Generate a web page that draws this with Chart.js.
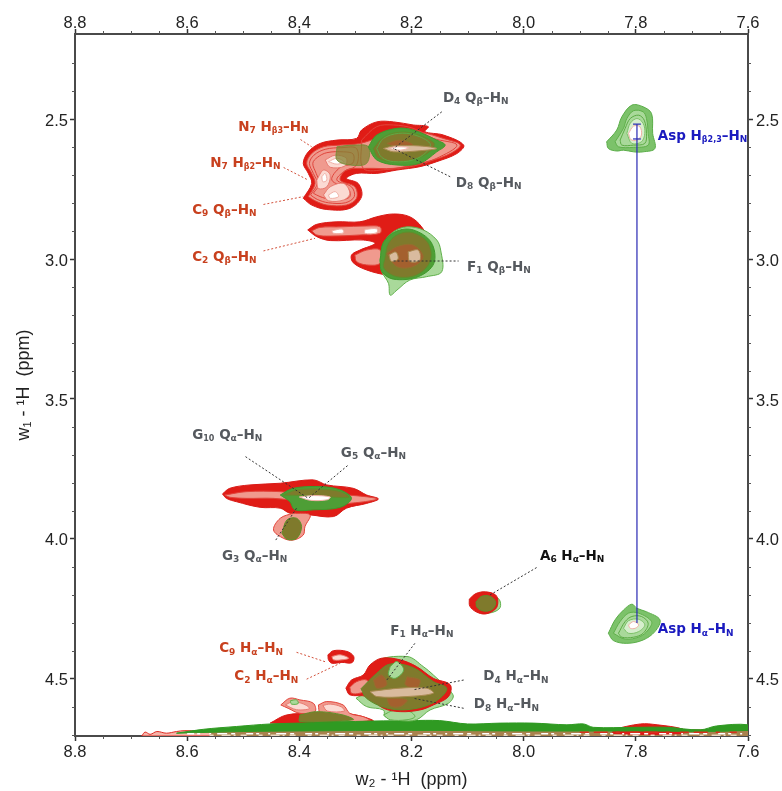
<!DOCTYPE html>
<html>
<head>
<meta charset="utf-8">
<title>NOESY spectrum</title>
<script src="https://cdn.jsdelivr.net/npm/chart.js@4"></script>
<style>
  body { margin: 0; background: #fff; }
  canvas { display: block; }
</style>
</head>
<body>
<canvas id="chart" width="782" height="791"></canvas>
<script>
// axis values (ppm)
const xRange = [7.6, 8.8];
const yRange = [2.196, 4.704];
const xMajorTicks = [8.8, 8.6, 8.4, 8.2, 8.0, 7.8, 7.6];
const yMajorTicks = [2.5, 3.0, 3.5, 4.0, 4.5];
const xMinorTicks = [8.75, 8.7, 8.65, 8.55, 8.5, 8.45, 8.35, 8.3, 8.25, 8.15, 8.1, 8.05, 7.95, 7.9, 7.85, 7.75, 7.7, 7.65];
const yMinorTicks = [2.3, 2.4, 2.6, 2.7, 2.8, 2.9, 3.1, 3.2, 3.3, 3.4, 3.6, 3.7, 3.8, 3.9, 4.1, 4.2, 4.3, 4.4, 4.6, 4.7];

// contours, [w2, w1] in ppm
const bandRedOuter = [[8.393,2.783],[8.378,2.730],[8.384,2.694],[8.393,2.658],[8.384,2.617],[8.363,2.587],[8.333,2.575],[8.298,2.569],[8.289,2.539],[8.262,2.510],[8.232,2.510],[8.197,2.521],[8.170,2.527],[8.176,2.545],[8.143,2.557],[8.107,2.593],[8.119,2.623],[8.155,2.652],[8.185,2.670],[8.226,2.682],[8.262,2.694],[8.298,2.694],[8.316,2.712],[8.295,2.730],[8.289,2.777],[8.310,2.819],[8.351,2.823],[8.378,2.807]];
const bandRedMid = [[8.384,2.777],[8.372,2.730],[8.378,2.694],[8.387,2.658],[8.378,2.623],[8.357,2.599],[8.327,2.593],[8.292,2.587],[8.256,2.563],[8.220,2.533],[8.185,2.545],[8.143,2.569],[8.113,2.593],[8.137,2.629],[8.185,2.658],[8.232,2.676],[8.280,2.676],[8.316,2.682],[8.327,2.718],[8.301,2.742],[8.298,2.783],[8.316,2.807],[8.351,2.807],[8.372,2.792]];
const bandRedRingA = [[8.380,2.771],[8.368,2.730],[8.375,2.694],[8.382,2.658],[8.374,2.629],[8.354,2.608],[8.324,2.602],[8.298,2.605],[8.298,2.664],[8.321,2.688],[8.333,2.718],[8.307,2.742],[8.302,2.777],[8.318,2.799],[8.348,2.799],[8.368,2.787]];
const bandRedRingB = [[8.375,2.765],[8.364,2.730],[8.370,2.694],[8.376,2.658],[8.368,2.637],[8.351,2.620],[8.321,2.617],[8.304,2.625],[8.305,2.658],[8.327,2.672],[8.342,2.718],[8.312,2.751],[8.310,2.777],[8.321,2.787],[8.345,2.787],[8.363,2.777]];
const bandRedRingC = [[8.289,2.575],[8.262,2.527],[8.232,2.521],[8.197,2.533],[8.161,2.569],[8.119,2.593],[8.155,2.640],[8.197,2.668],[8.244,2.680],[8.286,2.676]];
const lobeRingA = [[8.354,2.646],[8.336,2.629],[8.316,2.640],[8.319,2.668],[8.345,2.672]];
const lobeRingB = [[8.369,2.718],[8.357,2.682],[8.345,2.700],[8.351,2.742],[8.366,2.748]];
const lobeRingC = [[8.357,2.771],[8.345,2.742],[8.321,2.730],[8.310,2.765],[8.321,2.789],[8.348,2.792]];
const lobeSpotA = [[8.348,2.652],[8.333,2.640],[8.321,2.652],[8.333,2.661]];
const lobeSpotB = [[8.348,2.771],[8.336,2.759],[8.330,2.777],[8.345,2.783]];
const lobeSpotC = [[8.360,2.706],[8.354,2.694],[8.351,2.718],[8.358,2.724]];
const bandGreenFaint = [[8.333,2.599],[8.304,2.593],[8.277,2.599],[8.280,2.658],[8.310,2.664],[8.333,2.646]];
const bandGreen = [[8.277,2.599],[8.262,2.557],[8.226,2.533],[8.197,2.539],[8.155,2.575],[8.140,2.593],[8.155,2.617],[8.185,2.658],[8.226,2.664],[8.262,2.646]];
const bandCore = [[8.268,2.605],[8.252,2.568],[8.226,2.548],[8.195,2.552],[8.160,2.585],[8.165,2.612],[8.196,2.645],[8.235,2.652],[8.260,2.638]];
const bandContour = [[8.262,2.605],[8.250,2.569],[8.223,2.551],[8.194,2.557],[8.167,2.587],[8.173,2.617],[8.197,2.646],[8.232,2.652],[8.253,2.637]];
const bandBlotch = [[8.244,2.587],[8.220,2.575],[8.197,2.593],[8.220,2.605]];
const bandSpot = [[8.250,2.605],[8.232,2.596],[8.185,2.596],[8.155,2.605],[8.185,2.613],[8.232,2.617]];
const bandHot = [[8.240,2.605],[8.228,2.599],[8.205,2.602],[8.220,2.611]];

const c2RedOuter = [[8.385,2.896],[8.369,2.876],[8.333,2.867],[8.292,2.867],[8.262,2.849],[8.232,2.839],[8.203,2.849],[8.182,2.885],[8.167,2.944],[8.167,3.015],[8.197,3.063],[8.244,3.057],[8.280,3.039],[8.304,3.013],[8.307,2.986],[8.292,2.968],[8.265,2.944],[8.286,2.932],[8.345,2.934],[8.369,2.920]];
const c2RedStrip = [[8.378,2.899],[8.363,2.887],[8.327,2.885],[8.280,2.882],[8.256,2.885],[8.256,2.908],[8.292,2.914],[8.345,2.918],[8.369,2.914]];
const c2SpotA = [[8.342,2.899],[8.324,2.893],[8.321,2.906],[8.339,2.908]];
const c2SpotB = [[8.283,2.894],[8.262,2.892],[8.262,2.906],[8.283,2.908]];
const f1RedLight = [[8.301,2.986],[8.280,2.968],[8.256,2.968],[8.256,3.015],[8.280,3.021],[8.298,3.009]];
const f1GreenOuter = [[8.256,3.004],[8.250,2.944],[8.232,2.902],[8.208,2.885],[8.179,2.896],[8.155,2.932],[8.148,2.968],[8.146,3.045],[8.173,3.063],[8.203,3.075],[8.226,3.111],[8.238,3.129],[8.241,3.087],[8.253,3.045]];
const f1GreenRim = [[8.256,3.004],[8.250,2.940],[8.226,2.900],[8.197,2.896],[8.165,2.940],[8.160,3.015],[8.188,3.063],[8.232,3.072],[8.253,3.045]];
const f1Olive = [[8.247,2.992],[8.241,2.944],[8.223,2.911],[8.197,2.906],[8.170,2.944],[8.167,3.009],[8.191,3.057],[8.226,3.063],[8.249,3.033]];
const f1Core = [[8.244,2.980],[8.226,2.956],[8.197,2.950],[8.179,2.992],[8.197,3.027],[8.226,3.027]];
const f1Spot = [[8.206,2.974],[8.188,2.968],[8.185,3.004],[8.203,3.009]];
const f1SpotLeft = [[8.240,2.985],[8.228,2.975],[8.224,3.000],[8.236,3.008]];

const gBandRed = [[8.537,3.839],[8.524,3.819],[8.488,3.807],[8.434,3.801],[8.375,3.789],[8.351,3.807],[8.304,3.819],[8.280,3.843],[8.259,3.857],[8.280,3.873],[8.316,3.890],[8.339,3.920],[8.381,3.914],[8.417,3.908],[8.434,3.890],[8.470,3.887],[8.512,3.867],[8.530,3.855]];
const gBandStrip = [[8.533,3.843],[8.494,3.831],[8.434,3.831],[8.375,3.843],[8.316,3.843],[8.262,3.857],[8.316,3.873],[8.387,3.867],[8.446,3.855],[8.494,3.855],[8.524,3.851]];
const gBandGreen = [[8.434,3.843],[8.411,3.819],[8.363,3.813],[8.327,3.825],[8.307,3.855],[8.327,3.887],[8.375,3.896],[8.408,3.896],[8.417,3.867]];
const gBandOlive = [[8.428,3.843],[8.405,3.825],[8.363,3.822],[8.327,3.831],[8.312,3.851],[8.375,3.846]];
const gBandSpot = [[8.400,3.850],[8.375,3.845],[8.345,3.850],[8.350,3.860],[8.380,3.862]];
const g3Red = [[8.411,3.908],[8.381,3.914],[8.390,3.956],[8.393,3.986],[8.411,4.004],[8.428,3.998],[8.446,3.968],[8.434,3.926]];
const g3Core = [[8.431,3.980],[8.422,3.932],[8.405,3.926],[8.396,3.956],[8.405,3.998],[8.422,4.001]];

const a6Red = [[8.097,4.215],[8.085,4.195],[8.068,4.189],[8.050,4.200],[8.046,4.225],[8.050,4.250],[8.068,4.268],[8.085,4.260],[8.096,4.240]];
const a6Green = [[8.085,4.225],[8.075,4.205],[8.060,4.205],[8.050,4.225],[8.055,4.250],[8.070,4.258],[8.083,4.245]];
const a6Fringe = [[8.060,4.200],[8.044,4.215],[8.042,4.245],[8.055,4.262],[8.070,4.262],[8.060,4.230]];

const c9AlphaRed = [[8.349,4.414],[8.339,4.399],[8.315,4.402],[8.303,4.420],[8.306,4.442],[8.324,4.441],[8.342,4.444],[8.348,4.432]];
const c9AlphaLight = [[8.342,4.420],[8.327,4.414],[8.312,4.426],[8.324,4.432],[8.339,4.432]];

const f1AlphaPale = [[8.299,4.569],[8.286,4.551],[8.268,4.444],[8.208,4.420],[8.179,4.456],[8.161,4.486],[8.126,4.557],[8.134,4.587],[8.167,4.611],[8.191,4.646],[8.220,4.649],[8.247,4.635],[8.250,4.611],[8.280,4.599]];
const f1AlphaRed = [[8.317,4.533],[8.307,4.504],[8.286,4.486],[8.274,4.450],[8.253,4.426],[8.220,4.432],[8.191,4.456],[8.161,4.498],[8.131,4.521],[8.134,4.563],[8.161,4.593],[8.185,4.611],[8.220,4.617],[8.250,4.605],[8.280,4.563],[8.310,4.557]];
const f1AlphaOlive = [[8.290,4.535],[8.262,4.480],[8.238,4.447],[8.197,4.460],[8.161,4.510],[8.137,4.535],[8.161,4.585],[8.208,4.610],[8.248,4.602],[8.280,4.570]];
const f1AlphaLeft = [[8.310,4.530],[8.298,4.510],[8.280,4.504],[8.274,4.533],[8.292,4.551],[8.307,4.551]];
const f1AlphaTop = [[8.238,4.456],[8.226,4.438],[8.214,4.468],[8.229,4.498],[8.241,4.486]];
const f1AlphaStrip = [[8.274,4.545],[8.220,4.533],[8.173,4.533],[8.161,4.551],[8.208,4.563],[8.262,4.563]];
const f1AlphaPatchA = [[8.268,4.504],[8.253,4.486],[8.244,4.521],[8.262,4.533]];
const f1AlphaPatchB = [[8.208,4.492],[8.185,4.504],[8.191,4.533],[8.211,4.521]];
const f1AlphaPatchC = [[8.244,4.569],[8.208,4.575],[8.220,4.599],[8.238,4.596]];
const f1AlphaFoot = [[8.250,4.629],[8.232,4.613],[8.203,4.617],[8.194,4.635],[8.208,4.646],[8.238,4.646]];

const bumpLeft = [[8.433,4.593],[8.417,4.569],[8.399,4.575],[8.375,4.587],[8.372,4.617],[8.399,4.623],[8.420,4.605]];
const bumpLeftInner = [[8.425,4.593],[8.412,4.582],[8.392,4.590],[8.382,4.606],[8.405,4.610]];
const bumpLeftDot = [[8.416,4.578],[8.405,4.575],[8.402,4.588],[8.414,4.590]];
const bumpRight = [[8.366,4.593],[8.351,4.581],[8.322,4.593],[8.310,4.623],[8.286,4.635],[8.274,4.649],[8.339,4.652],[8.363,4.623]];
const bumpRightInner = [[8.358,4.595],[8.345,4.590],[8.325,4.600],[8.320,4.615],[8.350,4.615]];
const moundRed = [[8.452,4.658],[8.423,4.629],[8.375,4.623],[8.339,4.623],[8.298,4.629],[8.268,4.652],[8.339,4.661]];
const moundOlive = [[8.399,4.629],[8.369,4.617],[8.322,4.629],[8.304,4.646],[8.399,4.652]];

const edgeRedLeft = [[8.681,4.704],[8.675,4.690],[8.666,4.698],[8.654,4.688],[8.637,4.694],[8.619,4.688],[8.604,4.685],[8.560,4.690],[8.560,4.704]];
const edgeRedRight = [[7.840,4.680],[7.792,4.661],[7.762,4.664],[7.715,4.680],[7.715,4.695],[7.840,4.695]];
const floorBrown = [[8.640,4.704],[8.619,4.694],[8.500,4.686],[8.300,4.684],[8.000,4.684],[7.800,4.684],[7.600,4.684],[7.600,4.704]];
const floorGreen = [[8.619,4.694],[8.571,4.680],[8.512,4.670],[8.452,4.661],[8.400,4.658],[8.300,4.652],[8.200,4.649],[8.150,4.649],[8.100,4.661],[8.042,4.658],[7.983,4.658],[7.923,4.664],[7.893,4.661],[7.876,4.673],[7.804,4.673],[7.745,4.673],[7.685,4.682],[7.656,4.668],[7.600,4.664],[7.600,4.684],[7.800,4.686],[8.000,4.686],[8.200,4.684],[8.400,4.686],[8.500,4.688]];
const floorSpeckleA = [[8.600,4.696],[7.600,4.696]];
const floorSpeckleB = [[8.560,4.701],[7.600,4.701]];
const floorSpeckleC = [[7.900,4.691],[7.620,4.691]];

const aspBetaOuter = [[7.852,2.581],[7.834,2.539],[7.825,2.492],[7.807,2.450],[7.787,2.456],[7.772,2.480],[7.770,2.551],[7.766,2.605],[7.787,2.617],[7.804,2.617],[7.822,2.611],[7.834,2.614],[7.849,2.605]];
const aspBetaMid = [[7.837,2.581],[7.822,2.533],[7.816,2.498],[7.804,2.470],[7.787,2.474],[7.781,2.498],[7.778,2.551],[7.778,2.593],[7.804,2.601],[7.831,2.599]];
const aspBetaRing = [[7.828,2.575],[7.819,2.533],[7.810,2.498],[7.795,2.486],[7.785,2.504],[7.781,2.551],[7.784,2.587],[7.804,2.593],[7.825,2.593]];
const aspBetaInner = [[7.816,2.551],[7.810,2.515],[7.798,2.498],[7.787,2.515],[7.784,2.551],[7.790,2.581],[7.807,2.587]];
const aspBetaSpot = [[7.813,2.551],[7.804,2.525],[7.793,2.527],[7.790,2.557],[7.798,2.575],[7.809,2.573]];
const aspAlphaOuter = [[7.849,4.337],[7.837,4.289],[7.822,4.254],[7.807,4.233],[7.798,4.248],[7.781,4.260],[7.757,4.289],[7.766,4.331],[7.787,4.361],[7.816,4.373],[7.840,4.363]];
const aspAlphaMid = [[7.840,4.337],[7.828,4.295],[7.813,4.265],[7.795,4.265],[7.772,4.295],[7.778,4.325],[7.793,4.349],[7.819,4.358]];
const aspAlphaRing = [[7.831,4.337],[7.819,4.295],[7.807,4.277],[7.790,4.277],[7.778,4.301],[7.787,4.337],[7.804,4.351],[7.825,4.351]];
const aspAlphaInner = [[7.822,4.319],[7.813,4.292],[7.795,4.287],[7.784,4.307],[7.795,4.331],[7.813,4.337]];
const aspAlphaSpot = [[7.813,4.307],[7.804,4.295],[7.795,4.307],[7.801,4.319],[7.810,4.319]];

// bottom to top, with the colour group of each contour
const contours = [
  [floorBrown, "floorBrown"], [edgeRedLeft, "redLine"], [edgeRedRight, "redEdge"],
  [moundRed, "redEdge"], [bumpLeft, "redMid"], [bumpLeftInner, "redLight"], [bumpLeftDot, "greenPale"], [bumpRight, "redMid"], [bumpRightInner, "redLight"],
  [moundOlive, "olive"], [floorGreen, "floorGreen"],
  [bandRedOuter, "redEdge"], [bandRedMid, "redMid"], [bandRedRingA, "redContour"], [bandRedRingB, "redContour"], [bandRedRingC, "redContour"],
  [lobeRingA, "redLight"], [lobeRingB, "redLight"], [lobeRingC, "redLight"],
  [lobeSpotA, "white"], [lobeSpotB, "white"], [lobeSpotC, "white"],
  [bandGreenFaint, "oliveFaint"], [bandGreen, "greenRim"], [bandCore, "olive"], [bandContour, "greenContour"], [bandBlotch, "brown"], [bandSpot, "tan"], [bandHot, "white"],
  [c2RedOuter, "redEdge"], [c2RedStrip, "redMid"], [c2SpotA, "white"], [c2SpotB, "white"], [f1RedLight, "redMid"],
  [f1GreenOuter, "greenPale"], [f1GreenRim, "greenRim"], [f1Olive, "olive"], [f1Core, "brown"], [f1Spot, "tan"], [f1SpotLeft, "tan"],
  [gBandRed, "redEdge"], [gBandStrip, "redMid"], [gBandGreen, "greenRim"], [gBandOlive, "olive"], [gBandSpot, "white"],
  [g3Red, "redMid"], [g3Core, "olive"],
  [a6Fringe, "greenPale"], [a6Red, "redEdge"], [a6Green, "olive"],
  [c9AlphaRed, "redEdge"], [c9AlphaLight, "redLight"],
  [f1AlphaPale, "greenPale"], [f1AlphaFoot, "greenPale"], [f1AlphaRed, "redEdge"], [f1AlphaLeft, "redMid"], [f1AlphaOlive, "olive"], [f1AlphaTop, "greenPale"],
  [f1AlphaPatchA, "brown"], [f1AlphaPatchB, "brown"], [f1AlphaPatchC, "brown"], [f1AlphaStrip, "tan"],
  [aspBetaOuter, "greenEdge"], [aspBetaMid, "greenPale"], [aspBetaRing, "greenContour"], [aspBetaInner, "greenLight"], [aspBetaSpot, "white"],
  [aspAlphaOuter, "greenEdge"], [aspAlphaMid, "greenPale"], [aspAlphaRing, "greenContour"], [aspAlphaInner, "greenLight"], [aspAlphaSpot, "white"],
];

const contourStyles = {
  redEdge: { fill: "#e01c16", line: "#d91a16" },
  redLine: { fill: "#f5b5aa", line: "#e02a22" },
  redMid: { fill: "#f09a8e", line: "#e2433a" },
  redLight: { fill: "#fbdad3", line: "#e87a70" },
  redContour: { fill: "rgba(0,0,0,0)", line: "#e0453c" },
  white: { fill: "#ffffff", line: "#f0b0a6" },
  greenEdge: { fill: "#7cc26a", line: "#5aad48" },
  greenPale: { fill: "#a9d99a", line: "#5fb04a" },
  greenLight: { fill: "#d6eecd", line: "#7cc268" },
  greenRim: { fill: "#4e9e36", line: "#3f9a2c" },
  greenContour: { fill: "rgba(0,0,0,0)", line: "#5cab45" },
  olive: { fill: "#7f7a2c", line: "#5f8f2a" },
  oliveFaint: { fill: "rgba(130,130,50,0.75)", line: "rgba(110,140,50,0.8)" },
  brown: { fill: "#a4602e", line: "#95702e" },
  tan: { fill: "#d9bb9e", line: "#a98a50" },
  floorGreen: { fill: "#2f9a22", line: "#2f9a22" },
  floorBrown: { fill: "#a9824e", line: "#a9824e" },
};

// dotted leader lines, [w2, w1] of both ends
const redLeaders = [
  [[8.398,2.573],[8.378,2.599]], [[8.428,2.673],[8.384,2.718]], [[8.464,2.805],[8.393,2.777]], [[8.464,2.971],[8.372,2.926]],
  [[8.405,4.405],[8.352,4.440]], [[8.387,4.501],[8.327,4.444]],
];
const greyLeaders = [
  [[8.146,2.474],[8.232,2.605]], [[8.131,2.706],[8.232,2.605]], [[8.232,3.007],[8.116,3.007]],
  [[8.496,3.706],[8.384,3.855]], [[8.314,3.738],[8.384,3.855]], [[8.442,4.004],[8.405,3.890]],
  [[8.060,4.200],[7.975,4.100]],
  [[8.194,4.373],[8.244,4.504]], [[8.107,4.504],[8.197,4.539]], [[8.107,4.605],[8.197,4.569]],
];

// blue connector between the two Asp peaks
const aspLine = [[7.798,2.518],[7.798,4.300]];
const aspCapTop = [[7.805,2.518],[7.791,2.518]];
const aspCapBottom = [[7.805,2.571],[7.791,2.571]];

// labels, ~ toggles subscript
const labelTexts = [
  "D~4~ Q~β~–H~N~", "D~8~ Q~β~–H~N~", "F~1~ Q~β~–H~N~",
  "N~7~ H~β3~–H~N~", "N~7~ H~β2~–H~N~", "C~9~ Q~β~–H~N~", "C~2~ Q~β~–H~N~",
  "G~10~ Q~α~–H~N~", "G~5~ Q~α~–H~N~", "G~3~ Q~α~–H~N~",
  "A~6~ H~α~–H~N~",
  "C~9~ H~α~–H~N~", "C~2~ H~α~–H~N~",
  "F~1~ H~α~–H~N~", "D~4~ H~α~–H~N~", "D~8~ H~α~–H~N~",
  "Asp H~β2,3~–H~N~", "Asp H~α~–H~N~",
];
const labelX = [8.144, 8.121, 8.101, 8.509, 8.559, 8.591, 8.591, 8.591, 8.326, 8.538, 7.971, 8.543, 8.516, 8.238, 8.072, 8.089, 7.761, 7.761];
const labelY = [2.425, 2.729, 3.029, 2.529, 2.657, 2.825, 2.993, 3.629, 3.693, 4.061, 4.061, 4.393, 4.493, 4.329, 4.493, 4.593, 2.561, 4.325];
const labelColors = ["#55595e", "#55595e", "#55595e", "#c8401e", "#c8401e", "#c8401e", "#c8401e", "#55595e", "#55595e", "#55595e", "#111111", "#c8401e", "#c8401e", "#55595e", "#55595e", "#55595e", "#1a1abf", "#1a1abf"];

const datasets = [];
contours.forEach(([points, kind]) => {
  datasets.push({
    data: points.concat([points[0]]),
    showLine: true,
    fill: "shape",
    tension: 0.35,
    backgroundColor: contourStyles[kind].fill,
    borderColor: contourStyles[kind].line,
    borderWidth: 1,
    pointRadius: 0,
  });
});

function addLine(points, color, width, dash) {
  datasets.push({
    data: points,
    showLine: true,
    fill: false,
    borderColor: color,
    borderWidth: width,
    borderDash: dash,
    pointRadius: 0,
  });
}
addLine(floorSpeckleA, "#ffffff", 1.5, [7, 3, 3, 9, 2, 6, 10, 4, 4, 11]);
addLine(floorSpeckleB, "#e8d8c0", 1.5, [4, 8, 9, 3, 2, 5, 6, 12]);
addLine(floorSpeckleC, "#d8301c", 1.5, [9, 5, 14, 8, 4, 10]);
redLeaders.forEach((p) => addLine(p, "#d2503a", 1, [2, 2]));
greyLeaders.forEach((p) => addLine(p, "#333333", 1, [2, 2]));
addLine(aspLine, "#2a2ab4", 1.2, []);
addLine(aspCapTop, "#2a2ab4", 1.2, []);
addLine(aspCapBottom, "#2a2ab4", 1.2, []);

// first dataset is drawn on top, the list above goes bottom to top
datasets.forEach((d, i) => { d.order = datasets.length - i; });

// short unlabelled ticks on all four sides
const minorTicks = {
  id: "minorTicks",
  afterDraw(chart) {
    const ctx = chart.ctx;
    const a = chart.chartArea;
    ctx.save();
    ctx.strokeStyle = "#555555";
    ctx.lineWidth = 1;
    ctx.beginPath();
    xMinorTicks.forEach((v) => {
      const p = Math.round(chart.scales.x.getPixelForValue(v)) + 0.5;
      ctx.moveTo(p, a.bottom); ctx.lineTo(p, a.bottom + 3);
      ctx.moveTo(p, a.top); ctx.lineTo(p, a.top - 3);
    });
    yMinorTicks.forEach((v) => {
      const p = Math.round(chart.scales.y.getPixelForValue(v)) + 0.5;
      ctx.moveTo(a.left, p); ctx.lineTo(a.left - 3, p);
      ctx.moveTo(a.right, p); ctx.lineTo(a.right + 3, p);
    });
    ctx.stroke();
    ctx.restore();
  },
};

// peak labels with subscripts
const peakLabels = {
  id: "peakLabels",
  afterDraw(chart) {
    const ctx = chart.ctx;
    ctx.save();
    ctx.textBaseline = "middle";
    labelTexts.forEach((text, i) => {
      let px = chart.scales.x.getPixelForValue(labelX[i]);
      const py = chart.scales.y.getPixelForValue(labelY[i]);
      ctx.fillStyle = labelColors[i];
      text.split("~").forEach((part, j) => {
        const subSize = part.length > 1 ? 8 : 9;
        ctx.font = j % 2 ? "bold " + subSize + "px 'DejaVu Sans'" : "bold 13.5px 'DejaVu Sans'";
        ctx.fillText(part, px, j % 2 ? py + 3.5 : py);
        px += ctx.measureText(part).width;
      });
    });
    ctx.restore();
  },
};

function makeAxis(position, range, majors, size, padding, labelOffset, title) {
  const horizontal = position === "top" || position === "bottom";
  return {
    type: "linear",
    position: position,
    min: range[0],
    max: range[1],
    reverse: true,
    afterBuildTicks: (scale) => { scale.ticks = majors.map((v) => ({ value: v })); },
    afterFit: (scale) => {
      if (horizontal) scale.height = size;
      else scale.width = size;
    },
    border: { display: true, color: "#4a4a4a", width: 2 },
    grid: { drawOnChartArea: false, drawTicks: true, tickLength: 5, tickColor: "#333333", tickWidth: 1.5 },
    ticks: {
      autoSkip: false,
      maxRotation: 0,
      padding: padding,
      labelOffset: labelOffset,
      color: "#222222",
      font: { family: "'Liberation Sans'", size: 16.5 },
      callback: (v) => v.toFixed(1),
    },
    title: title ? {
      display: true,
      text: title,
      color: "#222222",
      font: { family: "'Liberation Sans'", size: 18 },
      padding: { top: 13, bottom: 0 },
    } : { display: false },
  };
}

new Chart(document.getElementById("chart"), {
  type: "scatter",
  data: { datasets: datasets },
  options: {
    responsive: false,
    animation: false,
    layout: { padding: 0 },
    plugins: { legend: { display: false }, tooltip: { enabled: false } },
    scales: {
      x: makeAxis("bottom", xRange, xMajorTicks, 55, 2, 0, "w₂ - ¹H  (ppm)"),
      x2: makeAxis("top", xRange, xMajorTicks, 34, -4, 0),
      y: makeAxis("left", yRange, yMajorTicks, 75, 2, 2, "w₁ - ¹H  (ppm)"),
      y2: makeAxis("right", yRange, yMajorTicks, 34, 3, 2),
    },
  },
  plugins: [minorTicks, peakLabels],
});
</script>
</body>
</html>
